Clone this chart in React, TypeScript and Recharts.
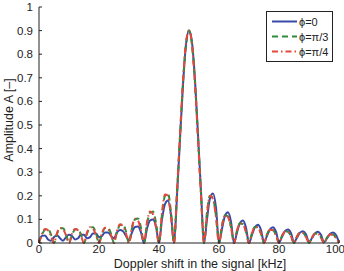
import React from 'react';
import { LineChart, Line, XAxis, YAxis } from 'recharts';

// Doppler shift [kHz], one sample per kHz
const freq = [
  0, 1, 2, 3, 4, 5, 6, 7, 8, 9, 10, 11, 12, 13, 14, 15, 16, 17, 18, 19,
  20, 21, 22, 23, 24, 25, 26, 27, 28, 29, 30, 31, 32, 33, 34, 35, 36, 37, 38, 39,
  40, 41, 42, 43, 44, 45, 46, 47, 48, 49, 50, 51, 52, 53, 54, 55, 56, 57, 58, 59,
  60, 61, 62, 63, 64, 65, 66, 67, 68, 69, 70, 71, 72, 73, 74, 75, 76, 77, 78, 79,
  80, 81, 82, 83, 84, 85, 86, 87, 88, 89, 90, 91, 92, 93, 94, 95, 96, 97, 98, 99, 100,
];

// phi = 0
const ampPhi0 = [
  0.01, 0.03, 0.032, 0.015, 0.01, 0.025, 0.033, 0.02, 0.01, 0.025,
  0.035, 0.03, 0.015, 0.02, 0.035, 0.035, 0.02, 0.025, 0.04, 0.04,
  0.025, 0.03, 0.045, 0.045, 0.03, 0.02, 0.045, 0.055, 0.05, 0.03,
  0.01, 0.045, 0.068, 0.07, 0.045, 0, 0.06, 0.095, 0.1, 0.07,
  0, 0.1, 0.165, 0.18, 0.12, 0, 0.2, 0.44, 0.67, 0.84,
  0.9, 0.85, 0.69, 0.46, 0.22, 0, 0.1, 0.19, 0.21, 0.15,
  0, 0.06, 0.115, 0.13, 0.09, 0, 0.045, 0.085, 0.095, 0.065,
  0, 0.035, 0.068, 0.077, 0.055, 0.003, 0.03, 0.058, 0.067, 0.048,
  0.003, 0.026, 0.05, 0.057, 0.042, 0.003, 0.023, 0.044, 0.05, 0.037,
  0.003, 0.021, 0.041, 0.048, 0.035, 0.003, 0.02, 0.038, 0.045, 0.034, 0.003,
];

// phi = pi/3
const ampPhi3 = [
  0, 0.035, 0.057, 0.06, 0.036, 0, 0.038, 0.062, 0.063, 0.038,
  0, 0.034, 0.057, 0.059, 0.036, 0, 0.04, 0.065, 0.067, 0.041,
  0, 0.039, 0.063, 0.065, 0.04, 0, 0.047, 0.076, 0.079, 0.049,
  0, 0.062, 0.1, 0.104, 0.065, 0, 0.08, 0.128, 0.134, 0.085,
  0, 0.12, 0.2, 0.21, 0.13, 0, 0.21, 0.45, 0.68, 0.84,
  0.9, 0.84, 0.68, 0.45, 0.21, 0, 0.13, 0.2, 0.19, 0.115,
  0, 0.075, 0.118, 0.112, 0.068, 0, 0.053, 0.084, 0.08, 0.048,
  0, 0.043, 0.069, 0.066, 0.04, 0, 0.036, 0.057, 0.055, 0.033,
  0, 0.031, 0.05, 0.048, 0.029, 0, 0.028, 0.045, 0.043, 0.026,
  0, 0.025, 0.04, 0.039, 0.024, 0, 0.023, 0.037, 0.036, 0.022, 0,
];

// phi = pi/4
const ampPhi4 = [
  0, 0.039, 0.059, 0.054, 0.03, 0, 0.042, 0.064, 0.058, 0.033,
  0, 0.039, 0.059, 0.054, 0.03, 0, 0.044, 0.067, 0.061, 0.034,
  0, 0.043, 0.065, 0.059, 0.033, 0, 0.052, 0.079, 0.072, 0.04,
  0, 0.068, 0.103, 0.095, 0.053, 0, 0.088, 0.133, 0.122, 0.068,
  0, 0.13, 0.205, 0.2, 0.11, 0, 0.22, 0.46, 0.69, 0.85,
  0.9, 0.84, 0.67, 0.44, 0.2, 0, 0.125, 0.2, 0.185, 0.11,
  0, 0.073, 0.117, 0.11, 0.066, 0, 0.052, 0.083, 0.079, 0.047,
  0, 0.042, 0.068, 0.065, 0.039, 0, 0.035, 0.056, 0.054, 0.032,
  0, 0.03, 0.049, 0.047, 0.028, 0, 0.027, 0.044, 0.042, 0.025,
  0, 0.024, 0.039, 0.038, 0.023, 0, 0.022, 0.036, 0.035, 0.021, 0,
];

const xTicks = [0, 20, 40, 60, 80, 100];
const yTicks = [0, 0.1, 0.2, 0.3, 0.4, 0.5, 0.6, 0.7, 0.8, 0.9, 1];
const seriesNames = ['ϕ=0', 'ϕ=π/3', 'ϕ=π/4'];

const FONT = '"Liberation Sans", Arial, sans-serif';

const series = [
  { key: 'a0', name: seriesNames[0], color: '#3a48a8', dash: undefined },
  { key: 'a3', name: seriesNames[1], color: '#2e8b3e', dash: '6 4' },
  { key: 'a4', name: seriesNames[2], color: '#e4483a', dash: '6 3 1.5 3' },
];

const data = freq.map((f, i) => ({ f, a0: ampPhi0[i], a3: ampPhi3[i], a4: ampPhi4[i] }));

// MATLAB-style legend box, top right inside the axes
const LegendBox = () => (
  <div
    style={{
      position: 'absolute',
      left: 266,
      top: 11,
      border: '1px solid #222',
      background: '#fff',
      width: 65,
      padding: '2px 0',
      fontFamily: FONT,
      fontSize: 11,
      color: '#222',
    }}
  >
    {series.map(s => (
      <div key={s.key} style={{ display: 'flex', alignItems: 'center', height: 15 }}>
        <svg width={32} height={15}>
          <line x1={5} x2={30} y1={7.5} y2={7.5} stroke={s.color} strokeWidth={2} strokeDasharray={s.dash} />
        </svg>
        <span>{s.name}</span>
      </div>
    ))}
  </div>
);

const YTitle = (p: any) => {
  const vb = p.viewBox;
  const cx = vb.x + 9;
  const cy = vb.y + vb.height / 2 - 5;
  return (
    <text x={cx} y={cy} textAnchor="middle" dominantBaseline="central" fontSize={12.5} fontFamily={FONT} fill="#222"
      transform={`rotate(-90 ${cx} ${cy})`}>
      Amplitude A [–]
    </text>
  );
};

const XTitle = (p: any) => {
  const vb = p.viewBox;
  return (
    <text x={vb.x + vb.width / 2 + 11} y={vb.y + 24.5} textAnchor="middle" fontSize={12.5} fontFamily={FONT} fill="#222">
      Doppler shift in the signal [kHz]
    </text>
  );
};

const tickStyle = { fontSize: 11.5, fontFamily: FONT, fill: '#222' };

export default function App() {
  return (
    <div style={{ position: 'absolute', left: 0, top: 0, width: 344, height: 271, background: '#fff', overflow: 'hidden' }}>
      <LineChart width={344} height={271} data={data} margin={{ top: 7, right: 5, left: 0, bottom: 0 }}>
        <XAxis
          dataKey="f"
          type="number"
          domain={[0, 100]}
          ticks={xTicks}
          height={28}
          tickSize={-3}
          tickMargin={5}
          tick={tickStyle}
          stroke="#222"
          label={{ content: XTitle }}
        />
        <XAxis
          xAxisId="top"
          orientation="top"
          dataKey="f"
          type="number"
          domain={[0, 100]}
          ticks={xTicks}
          height={0}
          tickSize={-3}
          tickFormatter={() => ''}
          stroke="#222"
        />
        <YAxis
          type="number"
          domain={[0, 1]}
          ticks={yTicks}
          width={39}
          tickSize={-3}
          tickMargin={9}
          tick={tickStyle}
          stroke="#222"
          label={{ content: YTitle }}
        />
        <YAxis
          yAxisId="right"
          orientation="right"
          type="number"
          domain={[0, 1]}
          ticks={yTicks}
          width={0}
          tickSize={-3}
          tickFormatter={() => ''}
          stroke="#222"
        />
        {series.map(s => (
          <Line
            key={s.key}
            dataKey={s.key}
            name={s.name}
            type="monotone"
            stroke={s.color}
            strokeWidth={2}
            strokeDasharray={s.dash}
            dot={false}
            isAnimationActive={false}
          />
        ))}
      </LineChart>
      <LegendBox />
    </div>
  );
}
